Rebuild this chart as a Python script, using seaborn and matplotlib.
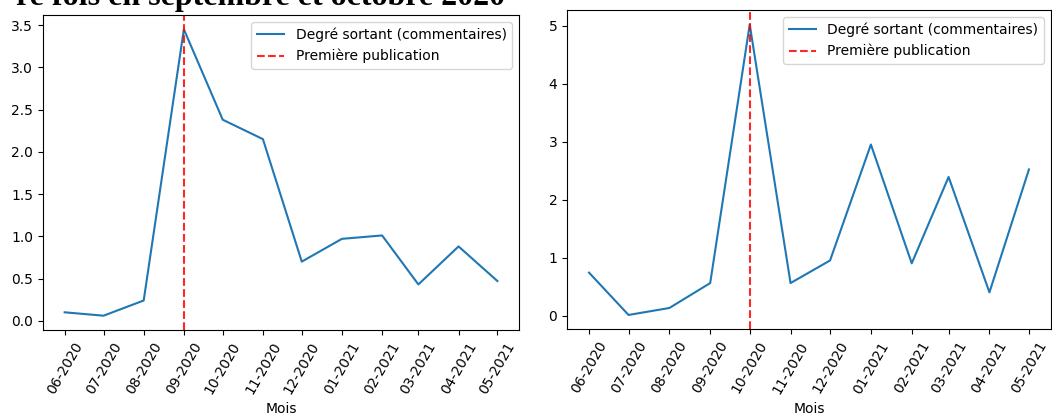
import pandas as pd
import matplotlib
matplotlib.use("Agg")
import matplotlib.pyplot as plt
import matplotlib.dates as mdates
import seaborn as sns

# months shown on both charts
months = ["06-2020", "07-2020", "08-2020", "09-2020", "10-2020", "11-2020",
          "12-2020", "01-2021", "02-2021", "03-2021", "04-2021", "05-2021"]

# out degree (comments) per month
left_values = [0.10, 0.06, 0.24, 3.45, 2.38, 2.15, 0.70, 0.97, 1.01, 0.43, 0.88, 0.47]
right_values = [0.74, 0.01, 0.13, 0.56, 5.02, 0.56, 0.95, 2.95, 0.90, 2.39, 0.40, 2.52]

# month of first publication
left_first = "09-2020"
right_first = "10-2020"

line_label = "Degré sortant (commentaires)"
vline_label = "Première publication"
title_text = "re fois en septembre et octobre 2020"

dates = pd.to_datetime(months, format="%m-%Y")

fig = plt.figure(figsize=(10.52, 4.16), dpi=100)
ax1 = fig.add_axes([0.0409, 0.2067, 0.4525, 0.7572])
ax2 = fig.add_axes([0.539, 0.208, 0.46, 0.768])


def draw(ax, values, first):
    sns.lineplot(x=dates, y=values, ax=ax, color="#1f77b4", linewidth=1.5, label=line_label)
    ax.axvline(pd.to_datetime(first, format="%m-%Y"), color="red", linestyle="--",
               alpha=0.85, linewidth=1.5, label=vline_label)
    ax.xaxis.set_major_locator(mdates.MonthLocator())
    ax.xaxis.set_major_formatter(mdates.DateFormatter("%m-%Y"))
    ax.tick_params(axis="x", labelrotation=60)
    ax.set_xlabel("Mois")
    ax.set_ylabel("")
    ax.legend(loc="upper right")


draw(ax1, left_values, left_first)
draw(ax2, right_values, right_first)

# heading of the page, cut off at the top
fig.text(505 / 1052, 1 - 5 / 416, title_text, ha="right", va="baseline",
         fontsize=23, fontweight="bold", family="Liberation Serif")

fig.savefig("out.png", dpi=100)
